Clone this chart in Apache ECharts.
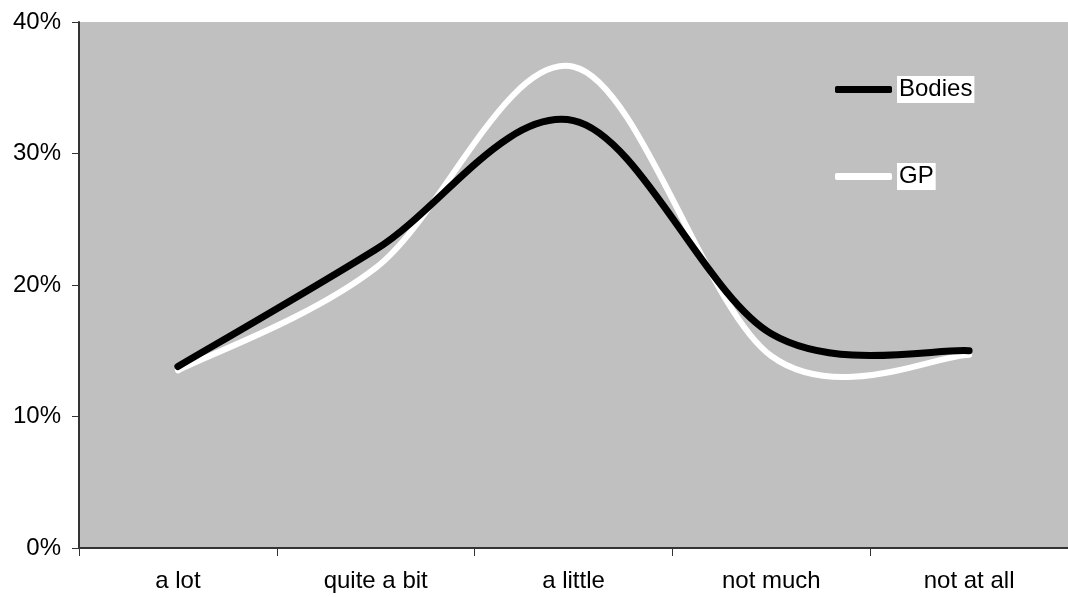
<!DOCTYPE html>
<html>
<head>
<meta charset="utf-8">
<script src="https://cdn.jsdelivr.net/npm/echarts@6/dist/echarts.min.js"></script>
<style>
  html, body { margin: 0; padding: 0; background: #ffffff; }
  #chart { width: 1068px; height: 597px; }
</style>
</head>
<body>
<div id="chart"></div>
<script>
// Response categories along the x axis
const categories = ['a lot', 'quite a bit', 'a little', 'not much', 'not at all'];
// Share of respondents (%) per category
const bodiesValues = [13.8, 22.7, 32.5, 16.3, 15.0];
const gpValues = [13.5, 21.3, 36.6, 14.6, 14.7];
// Y axis ticks
const yTicks = [0, 10, 20, 30, 40];

const FONT = 'Liberation Sans, Arial, sans-serif';

// Cardinal (Catmull-Rom) spline through the data points, in pixel space
function splinePath(api, values) {
  const pts = values.map((v, i) => api.coord([i, v]));
  const n = pts.length;
  let d = 'M' + pts[0][0] + ',' + pts[0][1];
  for (let i = 0; i < n - 1; i++) {
    const p0 = pts[Math.max(i - 1, 0)];
    const p1 = pts[i];
    const p2 = pts[i + 1];
    const p3 = pts[Math.min(i + 2, n - 1)];
    const c1x = p1[0] + (p2[0] - p0[0]) / 6;
    const c1y = p1[1] + (p2[1] - p0[1]) / 6;
    const c2x = p2[0] - (p3[0] - p1[0]) / 6;
    const c2y = p2[1] - (p3[1] - p1[1]) / 6;
    d += ' C' + c1x + ',' + c1y + ' ' + c2x + ',' + c2y + ' ' + p2[0] + ',' + p2[1];
  }
  return d;
}

function curveSeries(name, values, color, width, z) {
  return {
    name: name,
    type: 'custom',
    coordinateSystem: 'cartesian2d',
    data: values.map((v, i) => [i, v]),
    encode: { x: 0, y: 1 },
    clip: false,
    z: z,
    itemStyle: { color: color },
    renderItem: function (params, api) {
      if (params.dataIndex !== 0) return null;
      return {
        type: 'path',
        shape: { pathData: splinePath(api, values) },
        style: {
          fill: 'none',
          stroke: color,
          lineWidth: width,
          lineCap: 'round',
          lineJoin: 'round'
        }
      };
    }
  };
}

const chart = echarts.init(document.getElementById('chart'), null, { renderer: 'canvas' });

chart.setOption({
  animation: false,
  backgroundColor: '#ffffff',
  grid: {
    left: 79, top: 22, right: -8, bottom: 49,
    show: true,
    backgroundColor: '#c0c0c0',
    borderWidth: 0
  },
  legend: {
    orient: 'vertical',
    left: 830,
    top: 71,
    itemGap: 60,
    itemWidth: 57,
    itemHeight: 7,
    icon: 'roundRect',
    textStyle: {
      fontFamily: FONT,
      fontSize: 24,
      color: '#000000',
      backgroundColor: '#ffffff',
      padding: [2, 2, 1, 2]
    },
    data: [
      { name: 'Bodies', itemStyle: { color: '#000000' } },
      { name: 'GP', itemStyle: { color: '#ffffff' } }
    ]
  },
  xAxis: {
    type: 'category',
    data: categories,
    boundaryGap: true,
    axisLine: { show: true, lineStyle: { color: '#333333', width: 2 } },
    axisTick: { show: true, length: 8, lineStyle: { color: '#333333', width: 1 } },
    axisLabel: {
      fontFamily: FONT, fontSize: 24, color: '#000000', margin: 21
    },
    splitLine: { show: false }
  },
  yAxis: {
    type: 'value',
    min: yTicks[0],
    max: yTicks[yTicks.length - 1],
    interval: 10,
    axisLine: { show: true, lineStyle: { color: '#333333', width: 2 } },
    axisTick: { show: true, length: 7, lineStyle: { color: '#333333', width: 1 } },
    axisLabel: {
      fontFamily: FONT, fontSize: 24, color: '#000000', margin: 18,
      formatter: v => v + '%'
    },
    splitLine: { show: false }
  },
  series: [
    curveSeries('Bodies', bodiesValues, '#000000', 7, 3),
    curveSeries('GP', gpValues, '#ffffff', 6, 2)
  ]
});
</script>
</body>
</html>
